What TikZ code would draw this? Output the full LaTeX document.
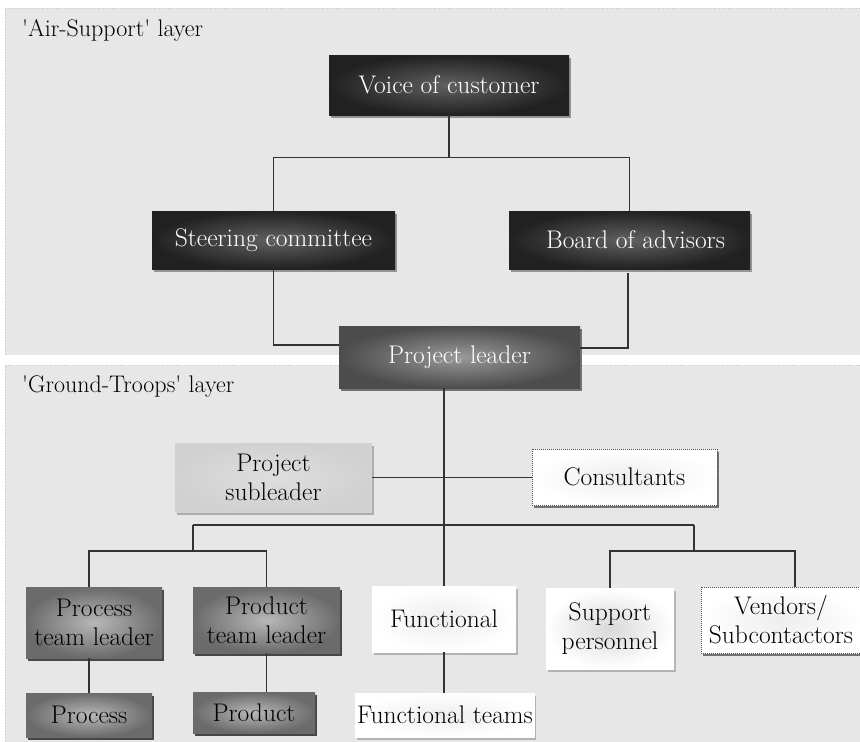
\documentclass[tikz,border=0pt]{standalone}
\usepackage{fontspec}
\usetikzlibrary{shadows,calc}

\begin{document}
\begin{tikzpicture}[x=1pt,y=-1pt,
  conn/.style={draw=black!80, line width=1.3pt},
  layer/.style={fill=gray!19},
  layerrim/.style={draw=gray!45, dotted, line width=0.8pt},
  layertitle/.style={anchor=base west, inner sep=0pt, font=\fontsize{24}{28}\selectfont},
  base/.style={rectangle, inner sep=2pt, align=center, shading=radial,
    font=\fontsize{25.5}{29}\selectfont},
  darkbox/.style={base, inner color=black!62, outer color=black!87, text=white,
    drop shadow={shadow xshift=1.5pt, shadow yshift=-3pt, fill=black!42, opacity=1}},
  leadbox/.style={base, inner color=black!40, outer color=black!70, text=white,
    drop shadow={shadow xshift=1.5pt, shadow yshift=-3pt, fill=black!55, opacity=1}},
  graybox/.style={base, inner color=black!28, outer color=black!58, text=black,
    drop shadow={shadow xshift=1.5pt, shadow yshift=-3pt, fill=black!72, opacity=1}},
  palebox/.style={base, inner color=black!13, outer color=black!18, text=black,
    drop shadow={shadow xshift=1.5pt, shadow yshift=-3pt, fill=black!32, opacity=1}},
  whitebox/.style={base, inner color=black!7, outer color=white, text=black,
    drop shadow={shadow xshift=1.5pt, shadow yshift=-3pt, fill=black!30, opacity=1}},
  dotbox/.style={whitebox, draw=black!70, densely dotted, line width=1pt,
    drop shadow={shadow xshift=1.5pt, shadow yshift=-2.5pt, fill=black!55, opacity=1}},
]
\useasboundingbox (0,0) rectangle (860,742);
\clip (0,0) rectangle (860,742);

% the two layers
\fill[layer] (5,8) rectangle (875,355);
\draw[layerrim] (5,355) -- (5,8) -- (875,8);
\fill[layer] (5,365) rectangle (875,760);
\draw[layerrim] (5,760) -- (5,365) -- (875,365);
\node[layertitle] (airtitle) at (22,36) {\textquotesingle Air-Support\textquotesingle{} layer};
\node[layertitle] (groundtitle) at (22,392) {\textquotesingle Ground-Troops\textquotesingle{} layer};

% air-support layer
\node[darkbox, minimum width=240pt, minimum height=60pt] (voc) at (449,85) {Voice of customer};
\node[darkbox, minimum width=243pt, minimum height=58pt] (steer) at (273.5,240) {Steering committee};
\node[darkbox, minimum width=241pt, minimum height=58pt] (board) at (629.5,240) {\hspace*{12pt}Board of advisors};
\node[leadbox, minimum width=241pt, minimum height=62pt] (pl) at (459.5,357) {Project leader};

% ground-troops layer
\node[palebox, minimum width=197pt, minimum height=69pt] (sub) at (273.5,477.5) {Project\\subleader};
\node[dotbox, minimum width=185pt, minimum height=56pt] (cons) at (624.5,477) {Consultants};

\node[graybox, minimum width=136pt, minimum height=71pt] (ptl) at (94,622.5) {Process\\team leader};
\node[graybox, minimum width=147pt, minimum height=66pt] (prtl) at (266.5,620) {Product\\team leader};
\node[whitebox, minimum width=144pt, minimum height=66pt] (func) at (444,619) {Functional};
\node[whitebox, inner color=black!15, minimum width=128pt, minimum height=81pt] (supp) at (610,628.5) {Support\\personnel};
\node[dotbox, minimum width=160pt, minimum height=66pt] (vend) at (781,620) {Vendors/\\Subcontactors};

\node[graybox, minimum width=126pt, minimum height=44pt] (proc) at (89,715) {Process};
\node[graybox, minimum width=122pt, minimum height=41pt] (prod) at (254,712.5) {Product};
\node[whitebox, minimum width=176pt, minimum height=44pt] (fteams) at (445,715) {Functional teams};

% connectors, air-support layer
\draw[conn] (voc.south) -- ++(0,42) coordinate (vocj);
\draw[conn] (steer.north) |- (vocj) -| (board.north);
\draw[conn] (steer.south) |- ($(pl.west)+(0,-12)$);
\draw[conn] ($(board.south)+(-1.5,4)$) |- ($(pl.east)+(0,-9)$);

% connectors, ground-troops layer
\draw[conn] (pl.south -| func.north) -- (func.north);
\draw[conn] (sub.east) -- (sub.east -| cons.west);
\coordinate (busL) at (193,525);
\coordinate (busR) at (694,525);
\draw[conn] (busL) -- (busR);
\draw[conn] (busL) -- ++(0,26) coordinate (lj);
\draw[conn] (busR) -- ++(0,26) coordinate (rj);
\draw[conn] (ptl.north -| proc.north) |- (lj) -| (prtl.north);
\draw[conn] (supp.north) |- (rj) -| ($(vend.north)+(14,0)$);
\draw[conn] (ptl.south -| proc.north) -- (proc.north);
\draw[conn] (prtl.south) -- (prtl.south |- prod.north);
\draw[conn] (func.south) -- (func.south |- fteams.north);
\end{tikzpicture}
\end{document}
